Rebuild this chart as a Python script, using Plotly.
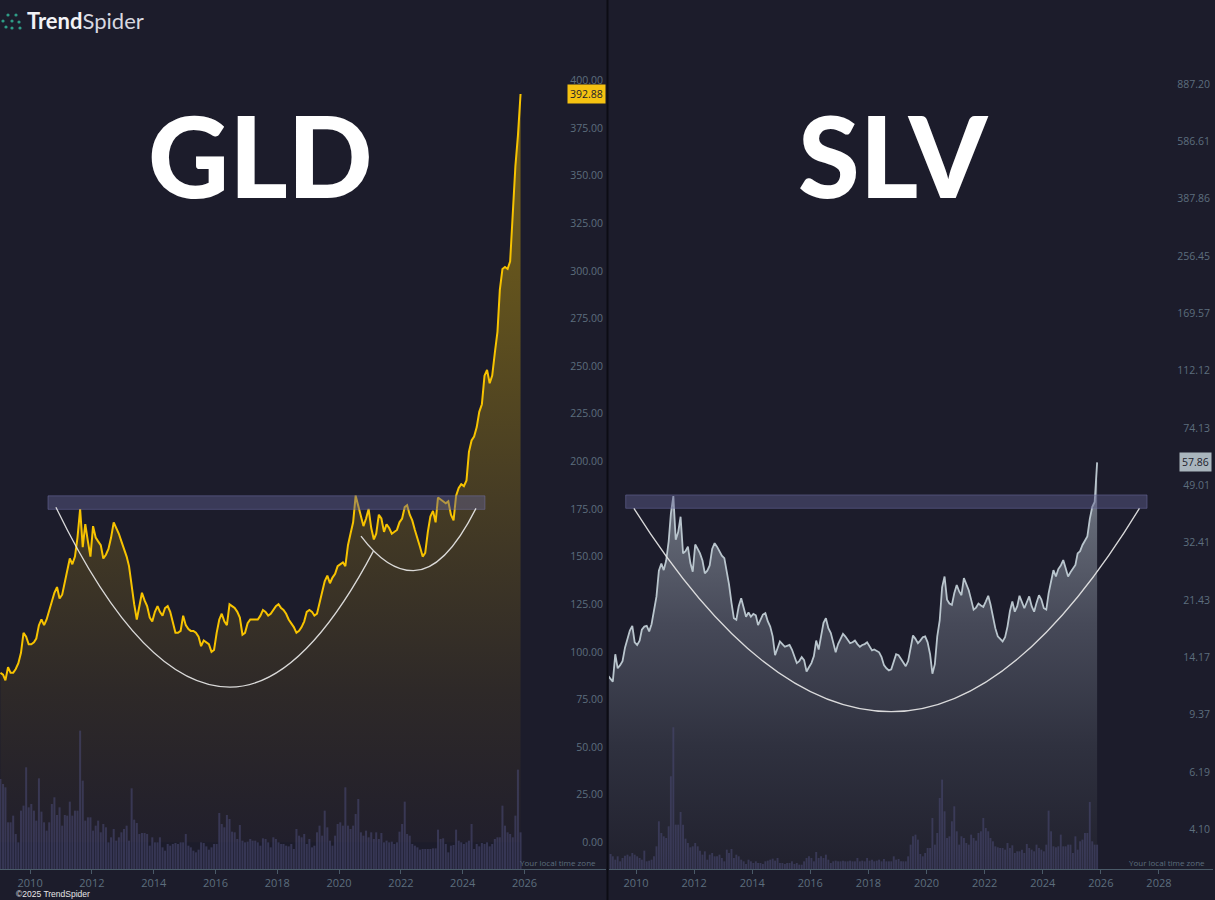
import math
import pandas as pd
import plotly.graph_objects as go

W, H = 1215, 900
BG = "#1c1c2b"
AXIS_TXT = "#5c6e7e"
AXIS_LINE = "#4a5a68"

# ---------------- data (monthly, Jan 2009 .. Nov 2025) ----------------
months = pd.date_range("2009-01-01", periods=203, freq="MS") + pd.Timedelta(days=14)

gld_close = [
    89, 88, 85, 92, 89, 89, 91, 94, 99.5, 110, 108, 104,            # 2009
    104, 105, 107, 114, 117, 114, 117, 122, 126, 131, 134, 128,     # 2010
    130, 136, 142, 149, 146, 150, 160, 175, 155, 167, 158, 150,     # 2011
    166, 160, 158, 156, 149, 151, 154, 160, 168, 165, 162, 158,     # 2012
    154, 150, 145, 134, 125, 117, 125, 131, 127, 124, 118, 116,     # 2013
    121, 124, 121, 119, 123, 124, 121, 116, 110, 110, 111, 119,     # 2014
    114, 112, 111, 111, 110, 108, 103, 106, 105, 104, 100, 101,     # 2015
    110, 117, 120, 116, 114, 125, 124, 123, 121, 118, 109, 110,     # 2016
    115, 117, 117, 117, 117, 119, 122, 121, 119, 120, 122, 124,     # 2017
    125, 123, 122, 120, 117, 115, 113, 110, 111, 113, 116, 121,     # 2018
    122, 121, 119, 120, 126, 131, 137, 140, 136, 139, 141, 145,     # 2019
    146, 147, 145, 156, 162, 168, 182, 177, 172, 166, 170, 175,     # 2020
    165, 159, 162, 172, 170, 163, 167, 165, 162, 163, 164, 168,     # 2021
    170, 176, 177, 172, 169, 164, 160, 155, 150, 152, 163, 171,     # 2022
    174, 168, 181, 180, 179, 178, 179, 172, 169, 182, 186, 188,     # 2023
    187, 190, 205, 211, 213, 218, 226, 230, 245, 248, 241, 245,     # 2024
    257, 268, 290, 301, 302, 301, 305, 330, 355, 371, 392.88,       # 2025
]

slv_close = [
    12.4, 12.1, 11.9, 14.5, 13.1, 13.4, 13.8, 15.2, 16.2, 17.2, 17.8, 15.8,   # 2009
    15.5, 16.0, 17.3, 17.7, 17.8, 17.1, 18.0, 19.8, 22.0, 26.5, 27.9, 26.6,   # 2010
    28.5, 32.7, 40.0, 45.4, 33.1, 35.0, 39.1, 30.0, 30.5, 31.5, 28.0, 26.3,   # 2011
    32.0, 31.0, 30.0, 28.5, 26.0, 26.5, 27.5, 31.0, 32.3, 31.5, 30.4, 29.5,   # 2012
    29.0, 26.6, 24.0, 21.0, 18.8, 18.6, 20.5, 21.7, 20.3, 19.0, 19.6, 19.0,   # 2013
    19.4, 19.2, 17.9, 18.5, 19.3, 19.5, 18.4, 17.7, 16.5, 14.4, 15.2, 15.9,   # 2014
    15.6, 15.3, 15.4, 15.5, 15.0, 14.3, 13.6, 13.8, 14.2, 13.9, 12.8, 13.2,   # 2015
    13.6, 14.3, 16.0, 15.0, 16.5, 18.2, 18.8, 17.5, 16.9, 15.8, 14.7, 15.6,   # 2016
    16.3, 16.8, 16.5, 16.0, 15.7, 15.8, 16.0, 15.6, 15.3, 15.5, 15.6, 15.8,   # 2017
    15.4, 14.9, 15.0, 14.8, 14.7, 14.2, 13.4, 13.1, 12.9, 13.0, 13.8, 14.5,   # 2018
    14.4, 14.0, 13.6, 13.3, 13.8, 15.3, 16.6, 16.2, 15.7, 16.0, 16.4, 16.5,   # 2019
    15.8, 14.5, 12.6, 13.5, 16.5, 18.5, 23.5, 25.4, 21.5, 20.9, 20.7, 22.5,   # 2020
    23.9, 22.8, 22.2, 25.1, 24.0, 23.0, 21.5, 20.0, 20.3, 20.9, 20.6, 20.4,   # 2021
    21.2, 22.1, 20.8, 19.0, 17.5, 16.5, 16.2, 15.9, 16.4, 17.7, 19.8, 21.2,   # 2022
    19.7, 20.5, 22.1, 21.0, 20.2, 21.1, 22.0, 20.5, 19.7, 21.0, 22.2, 21.5,   # 2023
    20.2, 20.0, 22.5, 24.5, 26.6, 25.4, 26.8, 27.5, 28.6, 27.0, 25.4, 26.2,   # 2024
    27.0, 27.6, 30.0, 30.5, 31.9, 32.8, 33.9, 38.5, 42.0, 43.5, 57.86,        # 2025
]

gld_volume_m = [
    270, 255, 245, 140, 140, 160, 105, 80, 175, 190, 305, 185,
    195, 175, 145, 272, 172, 140, 115, 140, 195, 215, 162, 185,
    130, 162, 160, 202, 160, 175, 175, 415, 265, 145, 155, 155,
    115, 130, 145, 110, 135, 125, 80, 95, 120, 85, 95, 110,
    120, 130, 85, 242, 148, 138, 105, 108, 108, 105, 70, 95,
    80, 80, 95, 65, 55, 75, 70, 75, 78, 75, 80, 80,
    105, 70, 65, 55, 50, 58, 80, 78, 68, 58, 65, 75,
    75, 168, 135, 125, 162, 150, 112, 110, 90, 132, 85, 80,
    82, 90, 85, 85, 80, 70, 92, 90, 80, 65, 95, 90,
    80, 75, 75, 70, 68, 75, 60, 120, 100, 95, 105, 75,
    90, 65, 70, 110, 130, 100, 175, 125, 85, 70, 100, 135,
    140, 130, 245, 130, 120, 130, 165, 210, 110, 100, 115, 95,
    110, 90, 110, 90, 108, 80, 85, 80, 82, 75, 80, 112,
    135, 202, 105, 100, 75, 70, 65, 58, 60, 60, 60, 60,
    62, 62, 118, 90, 92, 75, 50, 70, 72, 118, 85, 80,
    75, 80, 85, 135, 60, 75, 68, 78, 75, 80, 68, 75,
    90, 95, 95, 190, 130, 110, 105, 95, 160, 298, 110,
]

slv_volume_m = [
    45, 45, 38, 28, 38, 23, 33, 40, 43, 38, 48, 43,
    38, 33, 28, 55, 23, 25, 28, 38, 68, 143, 108, 98,
    93, 128, 278, 425, 133, 133, 171, 133, 91, 78, 65, 68,
    78, 68, 55, 43, 53, 28, 43, 48, 38, 38, 43, 33,
    23, 58, 48, 60, 33, 43, 38, 28, 23, 15, 28, 23,
    18, 23, 18, 18, 15, 23, 25, 28, 31, 25, 33, 18,
    18, 15, 18, 18, 23, 15, 18, 13, 13, 23, 33, 38,
    33, 23, 51, 33, 38, 33, 43, 28, 18, 23, 25, 23,
    23, 25, 23, 23, 25, 23, 23, 33, 23, 25, 23, 33,
    25, 28, 23, 25, 28, 23, 30, 23, 23, 23, 38, 28,
    30, 23, 23, 23, 38, 73, 98, 103, 88, 45, 38, 48,
    63, 63, 153, 73, 108, 213, 268, 173, 93, 98, 143, 188,
    113, 73, 98, 93, 78, 73, 103, 93, 85, 108, 113, 153,
    123, 113, 93, 83, 68, 65, 63, 63, 58, 78, 63, 71,
    48, 53, 53, 58, 48, 75, 63, 58, 53, 73, 63, 58,
    53, 73, 175, 113, 68, 65, 68, 103, 68, 68, 73, 73,
    48, 98, 58, 83, 88, 108, 108, 201, 83, 73, 73,
]

gld_ticks = [0, 25, 50, 75, 100, 125, 150, 175, 200, 225, 250, 275, 300, 325, 350, 375, 400]
slv_ticks = [4.10, 6.19, 9.37, 14.17, 21.43, 32.41, 49.01, 74.13, 112.12, 169.57,
             256.45, 387.86, 586.61, 887.20]

# drawings (decimal year, price)
gld_band = dict(t0=2010.58, t1=2024.72, p0=174.8, p1=181.9)
slv_band = dict(t0=2009.645, t1=2027.594, p0=41.55, p1=45.75)
gld_cup = dict(start=(2010.838, 175.9), vertex=(2016.469, 81.5), end=(2021.107, 152.9))
gld_handle = dict(start=(2020.709, 160.8), vertex=(2022.401, 142.6), end=(2024.431, 175.3))
slv_cup = dict(start=(2009.928, 41.55), vertex=(2018.782, 9.58), end=(2027.33, 41.55))

gld_xrange = (2009.026, 2028.637)
slv_xrange = (2009.071, 2029.862)


def dy(t):
    y = int(t)
    a = pd.Timestamp(year=y, month=1, day=1)
    b = pd.Timestamp(year=y + 1, month=1, day=1)
    return a + (b - a) * (t - y)


def ds(t):
    return dy(t).strftime("%Y-%m-%d")


def cup_path(c):
    (st, sp), (vt, vp), (et, ep) = c["start"], c["vertex"], c["end"]
    return (f"M {ds(st)},{sp} Q {ds((st + vt) / 2)},{vp} {ds(vt)},{vp} "
            f"Q {ds((vt + et) / 2)},{vp} {ds(et)},{ep}")


fig = go.Figure()

fig.add_trace(go.Scatter(
    x=months, y=gld_close, mode="lines", xaxis="x", yaxis="y",
    line=dict(color="#f7c300", width=2),
    fill="tozeroy",
    fillgradient=dict(type="vertical", start=0, stop=400, colorscale=[
        [0.0, "rgb(33,31,44)"], [0.2, "rgb(46,41,40)"], [0.45, "rgb(70,60,36)"],
        [0.7, "rgb(95,80,30)"], [1.0, "rgb(122,99,24)"]]),
))
fig.add_trace(go.Bar(
    x=months, y=gld_volume_m, xaxis="x", yaxis="y3",
    marker=dict(color="rgba(72,72,112,0.6)", line=dict(width=0)),
))
fig.add_trace(go.Scatter(
    x=months, y=slv_close, mode="lines", xaxis="x2", yaxis="y2",
    line=dict(color="#b9c5cd", width=1.8),
    fill="tozeroy",
    fillgradient=dict(type="vertical", start=3.1, stop=57.86, colorscale=[
        [0.0, "rgb(33,33,46)"], [0.3, "rgb(47,49,63)"], [0.6, "rgb(70,73,88)"],
        [0.85, "rgb(98,103,116)"], [1.0, "rgb(135,141,151)"]]),
))
fig.add_trace(go.Bar(
    x=months, y=slv_volume_m, xaxis="x2", yaxis="y4",
    marker=dict(color="rgba(72,72,112,0.6)", line=dict(width=0)),
))

xcommon = dict(type="date", showgrid=False, zeroline=False, showline=True,
               linecolor=AXIS_LINE, linewidth=1, ticks="outside", ticklen=4,
               tickcolor=AXIS_LINE, dtick="M24", tick0="2010-01-01", tickformat="%Y",
               tickfont=dict(family="Open Sans", size=11, color=AXIS_TXT))
ycommon = dict(showgrid=False, zeroline=False, showline=False, side="right",
               ticklabelposition="inside", ticks="",
               tickfont=dict(family="Open Sans", size=10.5, color=AXIS_TXT))

fig.update_layout(
    width=W, height=H, margin=dict(l=0, r=0, t=0, b=0),
    paper_bgcolor=BG, plot_bgcolor=BG, showlegend=False, hovermode=False,
    bargap=0.15,
    xaxis=dict(domain=[0, 606 / W], anchor="y",
               range=[ds(gld_xrange[0]), ds(gld_xrange[1])], **xcommon),
    yaxis=dict(domain=[31 / H, 1], anchor="x", range=[-14.0, 442.2],
               tickvals=gld_ticks, tickformat=".2f", **ycommon),
    yaxis3=dict(overlaying="y", anchor="x", range=[0, max(gld_volume_m) * 6.28],
                visible=False),
    xaxis2=dict(domain=[609 / W, 1213 / W], anchor="y2",
                range=[ds(slv_xrange[0]), ds(slv_xrange[1])], **xcommon),
    yaxis2=dict(domain=[31 / H, 1], anchor="x2", type="log", range=[0.4884, 3.2112],
                tickvals=slv_ticks, ticktext=[f"{v:.2f}" for v in slv_ticks], **ycommon),
    yaxis4=dict(overlaying="y2", anchor="x2", range=[0, max(slv_volume_m) * 6.13],
                visible=False),
)

shapes = []
band_style = dict(type="rect", fillcolor="rgba(95,95,144,0.45)",
                  line=dict(color="rgba(120,120,175,0.45)", width=1), layer="above")
shapes.append(dict(xref="x", yref="y", x0=ds(gld_band["t0"]), x1=ds(gld_band["t1"]),
                   y0=gld_band["p0"], y1=gld_band["p1"], **band_style))
shapes.append(dict(xref="x2", yref="y2", x0=ds(slv_band["t0"]), x1=ds(slv_band["t1"]),
                   y0=slv_band["p0"], y1=slv_band["p1"], **band_style))
arc_line = dict(color="rgba(232,232,232,0.92)", width=1.3)
shapes.append(dict(type="path", xref="x", yref="y", path=cup_path(gld_cup), line=arc_line))
shapes.append(dict(type="path", xref="x", yref="y", path=cup_path(gld_handle), line=arc_line))
shapes.append(dict(type="path", xref="x2", yref="y2", path=cup_path(slv_cup), line=arc_line))
# panel divider
shapes.append(dict(type="line", xref="paper", yref="paper", x0=607.5 / W, x1=607.5 / W,
                   y0=0, y1=1, line=dict(color="#0c0c14", width=2)))
# logo nodes
logo_nodes = [(3, 21), (8, 15), (12, 21), (6, 27), (12, 28), (16, 15), (19, 22), (20, 28)]
for (px, py) in logo_nodes:
    shapes.append(dict(type="circle", xref="paper", yref="paper",
                       x0=(px - 1.6) / W, x1=(px + 1.6) / W,
                       y0=1 - (py + 1.6) / H, y1=1 - (py - 1.6) / H,
                       fillcolor="#2f9c86", line=dict(width=0)))
fig.update_layout(shapes=shapes)

ann = []
ann.append(dict(text="GLD", xref="paper", yref="paper", x=260 / W, y=1 - 154 / H,
                xanchor="center", yanchor="middle", showarrow=False,
                font=dict(family="Lato", size=112, color="#ffffff", weight=900)))
ann.append(dict(text="SLV", xref="paper", yref="paper", x=893 / W, y=1 - 154 / H,
                xanchor="center", yanchor="middle", showarrow=False,
                font=dict(family="Lato", size=112, color="#ffffff", weight=900)))
ann.append(dict(text="<b>Trend</b><span style='color:#d8d8e0'>Spider</span>",
                xref="paper", yref="paper", x=25 / W, y=1 - 21 / H,
                xanchor="left", yanchor="middle", showarrow=False,
                font=dict(family="Lato", size=22, color="#f2f2f6")))
ann.append(dict(text="©2025 TrendSpider", xref="paper", yref="paper", x=14 / W, y=1 - 893.5 / H,
                xanchor="left", yanchor="middle", showarrow=False,
                font=dict(family="Liberation Sans Narrow, Liberation Sans", size=8.5, color="#e6e6e6")))
for xr in (598, 1207):
    ann.append(dict(text="Your local time zone", xref="paper", yref="paper",
                    x=xr / W, y=1 - 862 / H, xanchor="right", yanchor="middle",
                    showarrow=False, font=dict(family="Open Sans", size=8, color=AXIS_TXT)))
ann.append(dict(text=f"{gld_close[-1]:.2f}", xref="paper", yref="y", x=606 / W, y=gld_close[-1],
                xanchor="right", yanchor="middle", showarrow=False, bgcolor="#f5c211",
                borderpad=2, font=dict(family="Open Sans", size=10.5, color="#1c1c2b")))
ann.append(dict(text=f"{slv_close[-1]:.2f}", xref="paper", yref="y2", x=1212 / W,
                y=math.log10(slv_close[-1]),
                xanchor="right", yanchor="middle", showarrow=False, bgcolor="#a9b5bd",
                borderpad=2, font=dict(family="Open Sans", size=10.5, color="#1c1c2b")))
fig.update_layout(annotations=ann)

fig.write_html(
    "out.html",
    config={"displayModeBar": False},
    post_script="document.body.style.margin='0';document.body.style.overflow='hidden';",
)
